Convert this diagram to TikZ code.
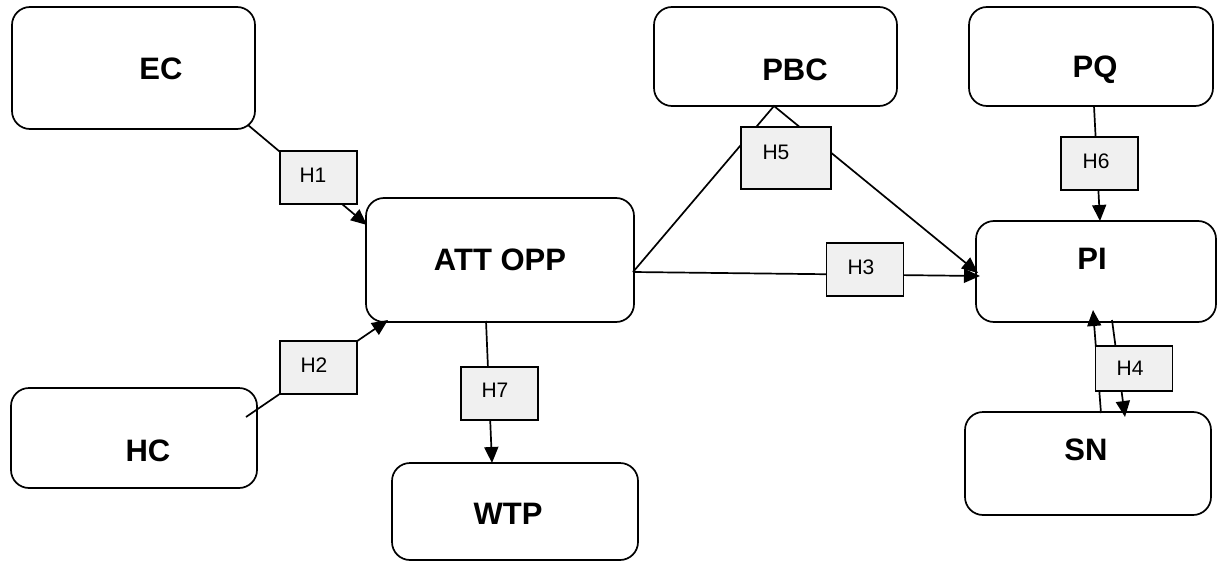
\documentclass[tikz,border=0pt]{standalone}
\usepackage{fontspec}
\setmainfont{Liberation Sans}
\usetikzlibrary{arrows.meta}
\definecolor{hypfill}{HTML}{F0F0F0}
\begin{document}
\begin{tikzpicture}[x=1pt,y=-1pt,
  concept/.style={draw, line width=1.7pt, rounded corners=18pt, inner sep=0pt},
  hyp/.style={draw, line width=1.7pt, fill=hypfill, inner sep=0pt,
              minimum width=77pt, minimum height=53pt},
  link/.style={line width=1.7pt, -{Triangle[length=16pt,width=14pt]}},
  big/.style={font=\fontsize{31}{37}\selectfont\bfseries, inner sep=0pt},
  small/.style={font=\fontsize{21}{25}\selectfont, inner sep=0pt}]
\useasboundingbox (0,0) rectangle (1224,562);

% constructs
\node[concept, minimum width=243pt, minimum height=122pt,
      label={[big,xshift=27.5pt,yshift=-1pt]center:EC}] (ec) at (133.5,68) {};
\node[concept, minimum width=243pt, minimum height=99pt,
      label={[big,xshift=19.5pt,yshift=-13.5pt]center:PBC}] (pbc) at (775.5,56.5) {};
\node[concept, minimum width=244pt, minimum height=99pt,
      label={[big,xshift=4pt,yshift=-13.5pt]center:PQ}] (pq) at (1091,56.5) {};
\node[concept, minimum width=268pt, minimum height=124pt,
      label={[big]center:ATT OPP}] (att) at (500,260) {};
\node[concept, minimum width=240pt, minimum height=101pt,
      label={[big,xshift=-4pt,yshift=12.5pt]center:PI}] (pi) at (1096,271.5) {};
\node[concept, minimum width=246pt, minimum height=100pt,
      label={[big,xshift=14pt,yshift=-13pt]center:HC}] (hc) at (134,438) {};
\node[concept, minimum width=246pt, minimum height=97pt,
      label={[big,xshift=-7pt,yshift=-2.5pt]center:WTP}] (wtp) at (515,511.5) {};
\node[concept, minimum width=246pt, minimum height=103pt,
      label={[big,xshift=-2pt,yshift=13.5pt]center:SN}] (sn) at (1088,463.5) {};

% connector end points
\coordinate (ec-out)  at (248,125);
\coordinate (att-in1) at (367,225);
\coordinate (hc-out)  at (246,417);
\coordinate (att-in2) at (388,320);
\coordinate (att-s)   at (486,321);
\coordinate (wtp-in)  at (492,463);
\coordinate (att-e)   at (633,272);
\coordinate (pi-w3)   at (980,276);
\coordinate (pbc-s)   at (774,106);
\coordinate (pi-w5)   at (978,273);
\coordinate (pq-s)    at (1094,106);
\coordinate (pi-n)    at (1100,221);
\coordinate (sn-n1)   at (1101,413);
\coordinate (pi-s1)   at (1093,310);
\coordinate (pi-s2)   at (1112,320);
\coordinate (sn-n2)   at (1125,417);

% paths
\draw[link] (ec-out) -- (att-in1);
\draw[link] (hc-out) -- (att-in2);
\draw[link] (att-s) -- (wtp-in);
\draw[link] (att-e) -- (pi-w3);
\draw[link] (att-e) -- (pbc-s) -- (pi-w5);
\draw[link] (pq-s) -- (pi-n);
\draw[link] (sn-n1) -- (pi-s1);
\draw[link] (pi-s2) -- (sn-n2);

% hypothesis labels
\node[hyp, label={[small,xshift=-5.5pt,yshift=2.5pt]center:H1}] (h1) at (318.5,177.5) {};
\node[hyp, label={[small,xshift=-4.5pt,yshift=2.5pt]center:H2}] (h2) at (318.5,367.5) {};
\node[hyp, label={[small,xshift=-4.5pt,yshift=3.5pt]center:H7}] (h7) at (499.5,393.5) {};
\node[hyp, minimum width=90pt, minimum height=62pt,
      label={[small,xshift=-10pt,yshift=6pt]center:H5}] (h5) at (786,158) {};
\node[hyp, label={[small,xshift=-4pt,yshift=2.5pt]center:H3}] (h3) at (865,269.5) {};
\node[hyp, label={[small,xshift=-3.5pt,yshift=2.5pt]center:H6}] (h6) at (1099.5,163.5) {};
\node[hyp, minimum height=45pt,
      label={[small,xshift=-4pt]center:H4}] (h4) at (1134,368.5) {};
\end{tikzpicture}
\end{document}
